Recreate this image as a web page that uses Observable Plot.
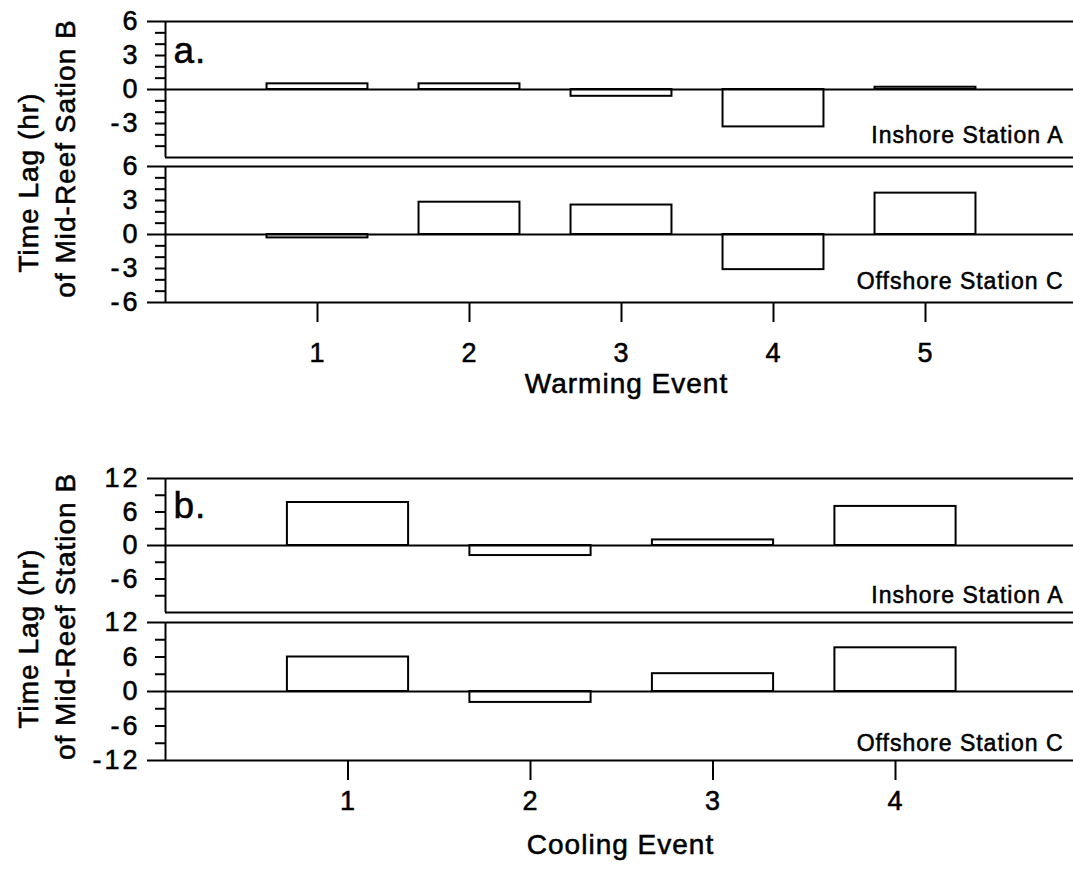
<!DOCTYPE html>
<html><head><meta charset="utf-8">
<script src="https://cdn.jsdelivr.net/npm/d3@7"></script>
<script src="https://cdn.jsdelivr.net/npm/@observablehq/plot@0.6"></script>
<style>
html,body{margin:0;padding:0;background:#fff;}
#chart{position:relative;width:1073px;height:869px;overflow:hidden;background:#fff;}
#chart svg{position:absolute;left:0;top:0;background:transparent !important;overflow:visible;}
#chart text{letter-spacing:1px;stroke:black;stroke-width:0.55px;}
#chart g[aria-label="y-axis tick label"] text{letter-spacing:3px;}
</style></head><body><div id="chart"></div>
<script>
// ---- data ----
const warmingEvents = [1, 2, 3, 4, 5];
const warmingInshoreA = [0.5, 0.5, -0.6, -3.3, 0.2];
const warmingOffshoreC = [-0.3, 2.85, 2.6, -3.1, 3.65];
const coolingEvents = [1, 2, 3, 4];
const coolingInshoreA = [7.7, -1.8, 1.0, 7.0];
const coolingOffshoreC = [6.0, -1.9, 3.1, 7.6];

// ---- tick labels ----
const warmingLabelsTop = [6, 3, 0, -3];
const warmingLabelsBottom = [6, 3, 0, -3, -6];
const warmingMinor = [5, 4, 2, 1, -1, -2, -4, -5];
const coolingLabelsTop = [12, 6, 0, -6];
const coolingLabelsBottom = [12, 6, 0, -6, -12];
const coolingMinor = [9, 3, -3, -9];

// ---- texts ----
const stationNames = ["Inshore Station A", "Offshore Station C"];
const xTitles = ["Warming Event", "Cooling Event"];
const yTitleA = ["Time Lag (hr)", "of Mid-Reef Sation B"];
const yTitleB = ["Time Lag (hr)", "of Mid-Reef Station B"];
const panelLetters = ["a.", "b."];

const W = 1073, H = 869, ML = 165;
const HW = 0.332; // bar half width in event units
const FONT = "'Liberation Sans', Arial, Helvetica, sans-serif";

function subpanel(o) {
  const data = o.events.map((e, i) => ({event: e, value: o.values[i]}));
  const lim = o.limit;
  const labelVals = o.labels;
  const longTicks = o.isBottom ? [lim, 0, -lim] : [lim, 0];
  const shortTicks = labelVals.filter(v => !longTicks.includes(v)).concat(o.minor);
  const marks = [
    Plot.rect(data, {x1: d => d.event - HW, x2: d => d.event + HW, y1: 0, y2: "value",
      fill: "white", stroke: "black", strokeWidth: 2}),
    Plot.ruleY([lim, 0, -lim], {stroke: "black", strokeWidth: 2}),
    Plot.ruleX([0], {stroke: "black", strokeWidth: 2}),
    Plot.axisY({ticks: longTicks, tickSize: 18, tickFormat: () => "", strokeWidth: 2, label: null}),
    Plot.axisY({ticks: shortTicks, tickSize: 10, tickFormat: () => "", strokeWidth: 2, label: null}),
    Plot.axisY({ticks: labelVals, tickSize: 0, tickPadding: 25, fontSize: 27, label: null,
      tickFormat: d => String(d), fill: "black"}),
    Plot.text([o.station], {frameAnchor: "bottom-right", textAnchor: "end", lineAnchor: "bottom",
      dx: -10, dy: o.stationDy, fontSize: 23, fill: "black"})
  ];
  if (o.isBottom) {
    marks.push(Plot.axisX({ticks: o.events, tickSize: 20, tickPadding: o.xPad, fontSize: 27,
      strokeWidth: 2, label: null, tickFormat: d => String(d), fill: "black"}));
    marks.push(Plot.text([o.xTitle], {frameAnchor: "bottom", lineAnchor: "bottom",
      dx: o.xTitleDx, dy: o.xTitleDy, fontSize: 28, fill: "black"}));
  } else {
    marks.push(Plot.text([o.letter], {frameAnchor: "top-left", textAnchor: "start", lineAnchor: "bottom",
      dx: 8, dy: o.letterDy, fontSize: 37, fill: "black"}));
    marks.push(Plot.text([o.yTitle[0]], {frameAnchor: "top-left", rotate: -90, textAnchor: "middle",
      lineAnchor: "bottom", dx: 37 - ML, dy: o.yTitleDy[0], fontSize: 28, fill: "black"}));
    marks.push(Plot.text([o.yTitle[1]], {frameAnchor: "top-left", rotate: -90, textAnchor: "middle",
      lineAnchor: "bottom", dx: 74 - ML, dy: o.yTitleDy[1], fontSize: 28, fill: "black"}));
  }
  return Plot.plot({
    width: W, height: H,
    marginLeft: ML, marginRight: 0,
    marginTop: o.top, marginBottom: H - o.bottom,
    x: {domain: o.xDomain, axis: null},
    y: {domain: [-lim, lim], axis: null},
    style: {background: "transparent", overflow: "visible", fontFamily: FONT, color: "black"},
    marks
  });
}

const chart = document.getElementById("chart");
const panels = [
  // panel a
  {events: warmingEvents, values: warmingInshoreA, limit: 6, labels: warmingLabelsTop, minor: warmingMinor,
   top: 21, bottom: 157, xDomain: [0, 908 / 152], station: stationNames[0], stationDy: -15,
   isBottom: false, letter: panelLetters[0], letterDy: 41, yTitle: yTitleA, yTitleDy: [161, 137]},
  {events: warmingEvents, values: warmingOffshoreC, limit: 6, labels: warmingLabelsBottom, minor: warmingMinor,
   top: 166, bottom: 302, xDomain: [0, 908 / 152], station: stationNames[1], stationDy: -14,
   isBottom: true, xPad: 20, xTitle: xTitles[0], xTitleDx: 7, xTitleDy: 90},
  // panel b
  {events: coolingEvents, values: coolingInshoreA, limit: 12, labels: coolingLabelsTop, minor: coolingMinor,
   top: 478, bottom: 612, xDomain: [0, 908 / 182.5], station: stationNames[0], stationDy: -10,
   isBottom: false, letter: panelLetters[1], letterDy: 39, yTitle: yTitleB, yTitleDy: [160, 138]},
  {events: coolingEvents, values: coolingOffshoreC, limit: 12, labels: coolingLabelsBottom, minor: coolingMinor,
   top: 622, bottom: 760, xDomain: [0, 908 / 182.5], station: stationNames[1], stationDy: -10,
   isBottom: true, xPad: 10, xTitle: xTitles[1], xTitleDx: 1, xTitleDy: 93}
];
for (const p of panels) chart.appendChild(subpanel(p));
</script>
</body></html>
